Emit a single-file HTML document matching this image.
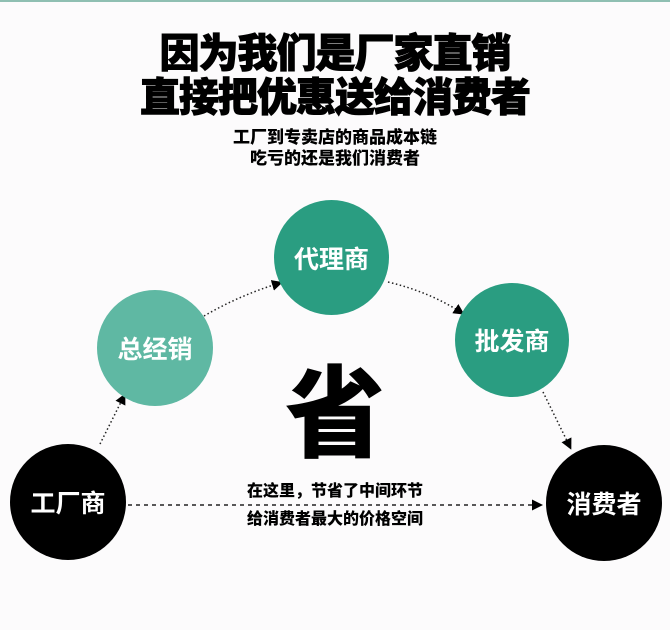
<!DOCTYPE html>
<html><head><meta charset="utf-8"><style>
html,body{margin:0;padding:0}
body{width:670px;height:630px;background:#fcfbfc;position:relative;overflow:hidden;font-family:"Liberation Sans","Noto Sans CJK SC",sans-serif}
.t{position:absolute;left:0;width:670px;text-align:center;color:#000;font-weight:900;white-space:nowrap}
.c{position:absolute;border-radius:50%;color:#fff;font-weight:bold;font-size:25px;display:flex;align-items:center;justify-content:center}
</style></head><body>
<div style="position:absolute;left:0;top:0;width:670px;height:2px;background:#8fbfb2"></div>
<div class="t" style="top:31px;font-size:40px;line-height:46px;letter-spacing:-1px;-webkit-text-stroke:1px #000">因为我们是厂家直销</div>
<div class="t" style="top:75px;font-size:40px;line-height:46px;letter-spacing:-1px;-webkit-text-stroke:1px #000">直接把优惠送给消费者</div>
<div class="t" style="top:127px;font-size:17px;line-height:22px">工厂到专卖店的商品成本链</div>
<div class="t" style="top:148px;font-size:17px;line-height:22px">吃亏的还是我们消费者</div>
<svg style="position:absolute;left:0;top:0" width="670" height="630">
<defs><marker id="a" markerWidth="11" markerHeight="11" refX="8" refY="5.5" orient="auto" markerUnits="userSpaceOnUse"><path d="M0,0L11,5.5L0,11z" fill="#000"/></marker></defs>
<g stroke="#222" stroke-width="1.5" fill="none" stroke-dasharray="1.5 2.5">
<path d="M100,444 L124,396" marker-end="url(#a)"/>
<path d="M204,316 Q240,295 280,283" marker-end="url(#a)"/>
<path d="M388,282 Q430,292 462,313" marker-end="url(#a)"/>
<path d="M543,392 L570,447" marker-end="url(#a)"/>
</g>
<path d="M128,505 L540,505" stroke="#222" stroke-width="1.5" stroke-dasharray="4 4" marker-end="url(#a)"/>
</svg>
<div class="c" style="left:10px;top:444px;width:116px;height:116px;background:#000">工厂商</div>
<div class="c" style="left:97px;top:290px;width:116px;height:116px;background:#5fb8a3">总经销</div>
<div class="c" style="left:274px;top:200px;width:115px;height:115px;background:#2a9d81">代理商</div>
<div class="c" style="left:455px;top:283px;width:114px;height:114px;background:#2a9d81">批发商</div>
<div class="c" style="left:546px;top:445px;width:116px;height:116px;background:#000">消费者</div>
<div class="t" style="top:360px;font-size:100px;line-height:110px;width:670px">省</div>
<div class="t" style="top:482px;font-size:16px;line-height:20px">在这里，节省了中间环节</div>
<div class="t" style="top:510px;font-size:16px;line-height:20px">给消费者最大的价格空间</div>
</body></html>
